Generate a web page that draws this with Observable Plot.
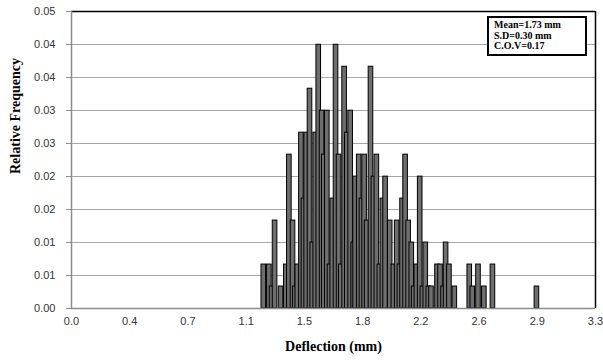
<!DOCTYPE html>
<html><head><meta charset="utf-8">
<script src="https://cdn.jsdelivr.net/npm/d3@7"></script>
<script src="https://cdn.jsdelivr.net/npm/@observablehq/plot@0.6"></script>
<style>
body{margin:0;background:#fff;}
#wrap{position:relative;width:603px;height:360px;}
#stats{position:absolute;left:487px;top:16px;width:91px;height:34px;border:2px solid #000;background:#fff;font:bold 10px "Liberation Serif",serif;line-height:10.5px;padding:2px 0 0 5px;color:#000;}
</style></head><body><div id="wrap"></div>
<script>
const deflection = [1.211,1.246,1.263,1.282,1.320,1.353,1.372,1.395,1.410,1.425,
  1.448,1.464,1.481,1.502,1.519,1.538,1.557,1.578,1.592,1.611,
  1.628,1.645,1.666,1.685,1.699,1.720,1.737,1.758,1.777,1.789,
  1.812,1.829,1.846,1.862,1.886,1.904,1.923,1.942,1.961,1.978,
  2.007,2.030,2.051,2.068,2.085,2.104,2.123,2.143,2.158,2.175,
  2.196,2.213,2.231,2.250,2.267,2.305,2.324,2.343,2.359,2.380,
  2.414,2.508,2.527,2.563,2.600,2.654,2.931];
const relFreq = [0.0074,0.0074,0.0037,0.0148,0.0037,0.0074,0.0259,0.0148,0.0037,0.0074,
  0.0296,0.0185,0.0296,0.0370,0.0111,0.0296,0.0444,0.0333,0.0259,0.0333,
  0.0074,0.0185,0.0444,0.0259,0.0074,0.0407,0.0296,0.0333,0.0111,0.0222,
  0.0259,0.0185,0.0259,0.0148,0.0407,0.0222,0.0259,0.0074,0.0185,0.0222,
  0.0148,0.0074,0.0148,0.0074,0.0185,0.0259,0.0148,0.0111,0.0037,0.0074,
  0.0222,0.0037,0.0111,0.0037,0.0037,0.0074,0.0074,0.0037,0.0111,0.0074,
  0.0037,0.0074,0.0037,0.0074,0.0037,0.0074,0.0037];
const xTickValues = [0,0.3667,0.7333,1.1,1.4667,1.8333,2.2,2.5667,2.9333,3.3];
const xTickLabels = ["0.0","0.4","0.7","1.1","1.5","1.8","2.2","2.6","2.9","3.3"];
const yTickValues = [0,0.005556,0.011111,0.016667,0.022222,0.027778,0.033333,0.038889,0.044444,0.05];
const yTickLabels = ["0.00","0.01","0.01","0.02","0.02","0.03","0.03","0.04","0.04","0.05"];
const statLines = ["Mean=1.73 mm","S.D=0.30 mm","C.O.V=0.17"];
const xLabel = "Deflection (mm)";
const yLabel = "Relative Frequency";

const bars = deflection.map((x, i) => ({x, f: relFreq[i]}));
const halfW = 0.0145;
const titleFont = {fontFamily: "Liberation Serif, serif", fontWeight: "bold", fontSize: 14, fill: "#000"};

const chart = Plot.plot({
  width: 603, height: 360,
  marginLeft: 71, marginRight: 8, marginTop: 11, marginBottom: 52,
  x: {domain: [0, 3.3]},
  y: {domain: [0, 0.05]},
  style: {fontFamily: "Liberation Sans, sans-serif", fontSize: "11px", color: "#333", background: "#fff"},
  marks: [
    Plot.gridY(yTickValues, {stroke: "#a6a6a6", strokeOpacity: 1, strokeWidth: 1}),
    Plot.rect(bars, {x1: d => d.x - halfW, x2: d => d.x + halfW, y1: 0, y2: "f", fill: "#6e6e6e", stroke: "#000", strokeWidth: 1}),
    Plot.ruleY([0.05], {stroke: "#000", strokeWidth: 1.5}),
    Plot.ruleX([3.3], {stroke: "#000", strokeWidth: 1.5}),
    Plot.ruleX([0], {stroke: "#8c8c8c", strokeWidth: 1.5}),
    Plot.ruleY([0], {stroke: "#8c8c8c", strokeWidth: 1.5}),
    Plot.axisY(yTickValues, {tickFormat: d => yTickLabels[yTickValues.indexOf(d)], tickSize: 5, tickPadding: 11, stroke: "#8c8c8c", fill: "#333", label: null}),
    Plot.axisX(xTickValues, {tickFormat: d => xTickLabels[xTickValues.indexOf(d)], tickSize: 0, tickPadding: 9, fill: "#333", label: null}),
    Plot.text([xLabel], {frameAnchor: "bottom", dy: 42, ...titleFont}),
    Plot.text([yLabel], {frameAnchor: "left", dx: -56, dy: 14, rotate: -90, ...titleFont})
  ]
});
const wrap = document.getElementById("wrap");
wrap.appendChild(chart);
const box = document.createElement("div");
box.id = "stats";
box.innerHTML = statLines.map(s => `<div>${s}</div>`).join("");
wrap.appendChild(box);
</script>
</body></html>
